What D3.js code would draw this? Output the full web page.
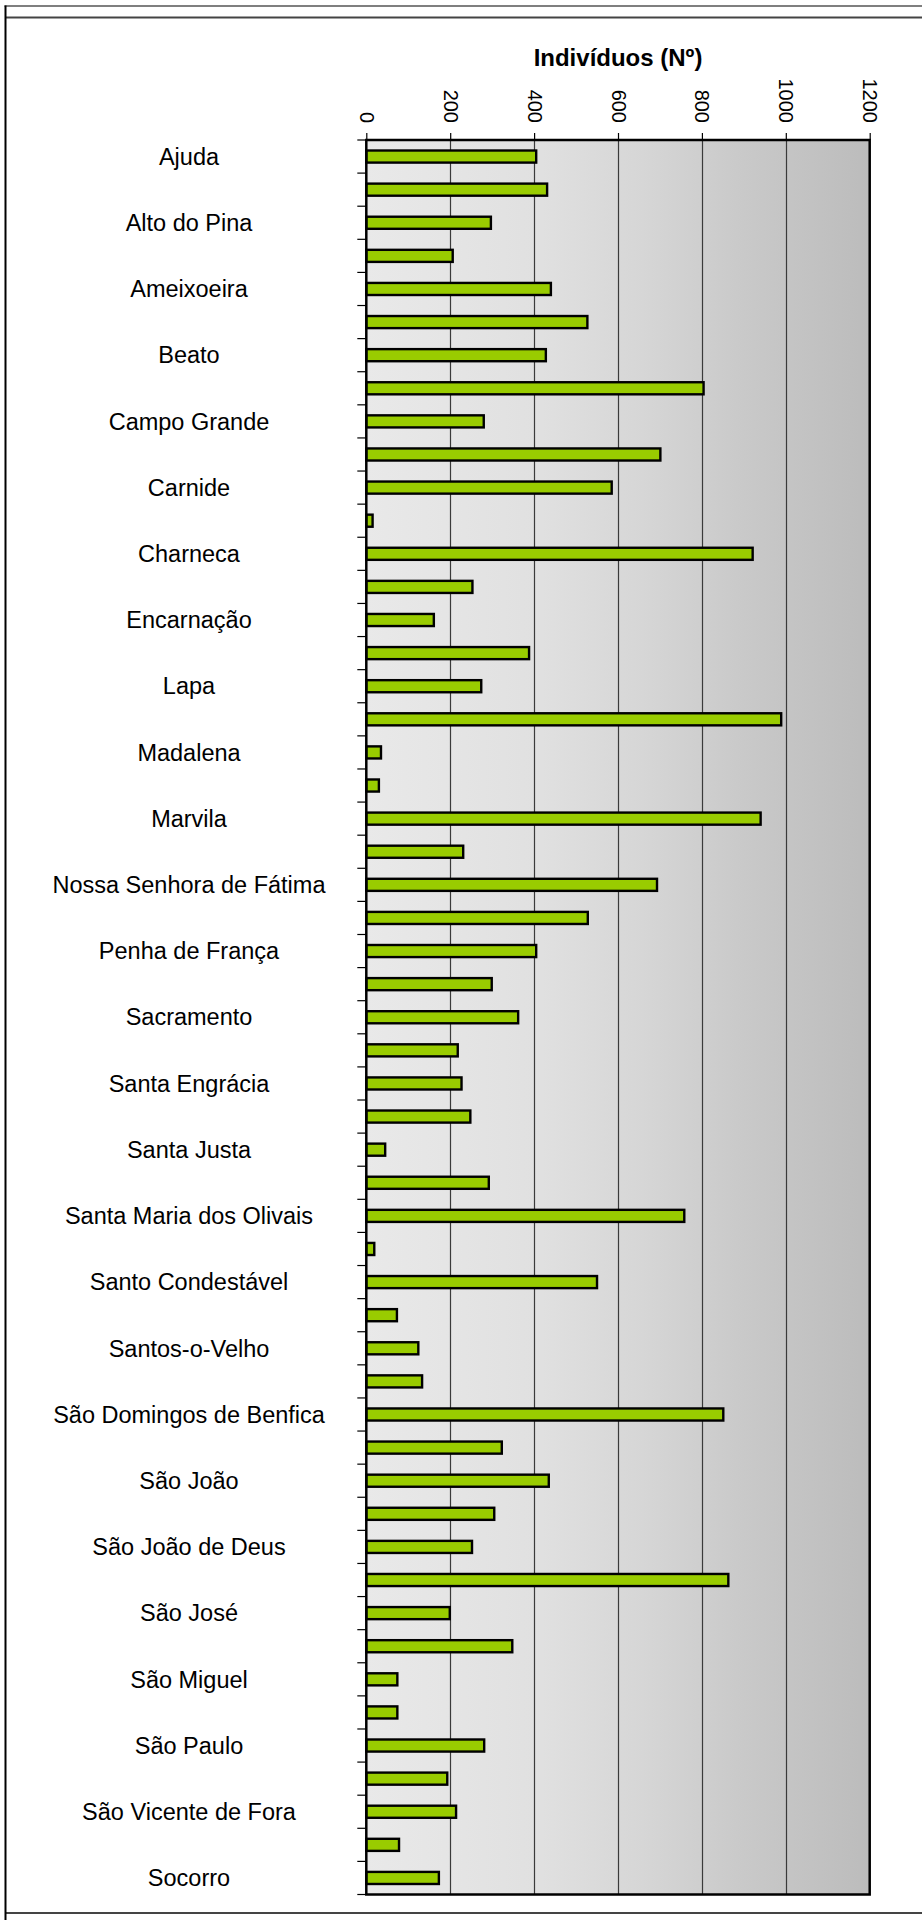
<!DOCTYPE html>
<html>
<head>
<meta charset="utf-8">
<script src="https://cdn.jsdelivr.net/npm/d3@7"></script>
<style>
  html, body { margin: 0; padding: 0; background: #fff; }
  svg { display: block; font-family: "Liberation Sans", Arial, sans-serif; }
</style>
</head>
<body>
<script>
// ---- data ----
const categories = [
  "Ajuda", "Alcântara", "Alto do Pina", "Alvalade", "Ameixoeira", "Anjos", "Beato", "Benfica",
  "Campo Grande", "Campolide", "Carnide", "Castelo", "Charneca", "Coração de Jesus", "Encarnação",
  "Graça", "Lapa", "Lumiar", "Madalena", "Mártires", "Marvila", "Mercês", "Nossa Senhora de Fátima",
  "Pena", "Penha de França", "Prazeres", "Sacramento", "Santa Catarina", "Santa Engrácia",
  "Santa Isabel", "Santa Justa", "Santa Maria de Belém", "Santa Maria dos Olivais", "Santiago",
  "Santo Condestável", "Santo Estêvão", "Santos-o-Velho", "São Cristóvão e São Lourenço",
  "São Domingos de Benfica", "São Francisco Xavier", "São João", "São João de Brito",
  "São João de Deus", "São Jorge de Arroios", "São José", "São Mamede", "São Miguel",
  "São Nicolau", "São Paulo", "São Sebastião da Pedreira", "São Vicente de Fora", "Sé", "Socorro"
];
const values = [
  405, 431, 297, 206, 440, 527, 428, 804,
  280, 701, 585, 15, 921, 253, 161,
  388, 274, 989, 35, 30, 940, 231, 693,
  528, 405, 299, 362, 218, 227,
  248, 45, 292, 758, 19,
  550, 73, 124, 133,
  851, 323, 435, 305,
  252, 863, 199, 348, 74,
  74, 281, 193, 214, 78, 173
];
const xTicks = [0, 200, 400, 600, 800, 1000, 1200];
const axisTitle = "Indivíduos (Nº)";

// ---- layout ----
const W = 922, H = 1920;
const plot = { left: 366.3, right: 869.7, top: 140, bottom: 1894.5 };
const FONT = "'Liberation Sans', Arial, sans-serif";

const svg = d3.select("body").append("svg").attr("width", W).attr("height", H);

const x = d3.scaleLinear().domain([0, 1200]).range([plot.left, plot.right]);
const y = d3.scaleBand().domain(categories).range([plot.top, plot.bottom])
  .paddingInner(0.635).paddingOuter(0.3175);
const yIdx = d3.scaleLinear().domain([0, categories.length]).range([plot.top, plot.bottom]);

// outer frame
const frame = svg.append("g");
frame.append("line").attr("x1", 4.5).attr("x2", W).attr("y1", 6).attr("y2", 6)
  .attr("stroke", "#000").attr("stroke-width", 1.2);
frame.append("line").attr("x1", 5).attr("x2", W).attr("y1", 17.5).attr("y2", 17.5)
  .attr("stroke", "#444").attr("stroke-width", 2);
frame.append("line").attr("x1", 5).attr("x2", W).attr("y1", 1913).attr("y2", 1913)
  .attr("stroke", "#444").attr("stroke-width", 2);
frame.append("line").attr("x1", 5.5).attr("x2", 5.5).attr("y1", 5.5).attr("y2", H)
  .attr("stroke", "#000").attr("stroke-width", 2);

// background gradient
const defs = svg.append("defs");
const grad = defs.append("linearGradient").attr("id", "bg").attr("x1", "0").attr("x2", "1").attr("y1", "0").attr("y2", "0");
[[0, "#e9e9e9"], [0.35, "#e0e0e0"], [0.55, "#d6d6d6"], [0.75, "#c9c9c9"], [1, "#bcbcbc"]]
  .forEach(([o, c]) => grad.append("stop").attr("offset", o).attr("stop-color", c));

svg.append("rect")
  .attr("x", plot.left).attr("y", plot.top)
  .attr("width", plot.right - plot.left).attr("height", plot.bottom - plot.top)
  .attr("fill", "url(#bg)");

// gridlines
svg.append("g").selectAll("line").data(xTicks.slice(1, -1)).join("line")
  .attr("x1", d => Math.round(x(d)) + 0.5).attr("x2", d => Math.round(x(d)) + 0.5)
  .attr("y1", plot.top).attr("y2", plot.bottom)
  .attr("stroke", "#3a3a3a").attr("stroke-width", 1.2);

// top axis
const xAxis = svg.append("g").attr("transform", `translate(0,${plot.top})`)
  .call(d3.axisTop(x).tickValues(xTicks).tickFormat(d3.format("d")).tickSize(7).tickSizeOuter(0));
xAxis.select(".domain").remove();
xAxis.selectAll(".tick line").attr("stroke", "#000").attr("stroke-width", 1.2);
xAxis.selectAll(".tick text")
  .attr("transform", "translate(0,-17) rotate(90)")
  .attr("x", 0).attr("y", 0).attr("dy", "0.35em")
  .attr("text-anchor", "end")
  .attr("font-size", 20).attr("fill", "#000")
  .attr("font-family", FONT);

// bars
svg.append("g").selectAll("rect").data(categories).join("rect")
  .attr("x", x(0))
  .attr("y", d => y(d))
  .attr("width", (d, i) => x(values[i]) - x(0))
  .attr("height", y.bandwidth())
  .attr("fill", "#99cc00")
  .attr("stroke", "#000").attr("stroke-width", 2.4);

// left category axis ticks (band boundaries)
svg.append("g").selectAll("line").data(d3.range(categories.length + 1)).join("line")
  .attr("x1", plot.left - 9).attr("x2", plot.left)
  .attr("y1", d => yIdx(d)).attr("y2", d => yIdx(d))
  .attr("stroke", "#000").attr("stroke-width", 1.2);

// category labels (every other one shown)
svg.append("g").selectAll("text").data(categories.filter((d, i) => i % 2 === 0)).join("text")
  .attr("x", 189)
  .attr("y", d => y(d) + y.bandwidth() / 2)
  .attr("dy", "0.35em")
  .attr("text-anchor", "middle")
  .attr("font-size", 23.5)
  .attr("font-family", FONT)
  .attr("fill", "#000")
  .text(d => d);

// plot border
svg.append("rect")
  .attr("x", plot.left).attr("y", plot.top)
  .attr("width", plot.right - plot.left).attr("height", plot.bottom - plot.top)
  .attr("fill", "none").attr("stroke", "#000").attr("stroke-width", 2.5);

// title
svg.append("text")
  .attr("x", (plot.left + plot.right) / 2).attr("y", 66)
  .attr("text-anchor", "middle")
  .attr("font-size", 24).attr("font-weight", "bold").attr("fill", "#000")
  .attr("font-family", FONT)
  .text(axisTitle);
</script>
</body>
</html>
